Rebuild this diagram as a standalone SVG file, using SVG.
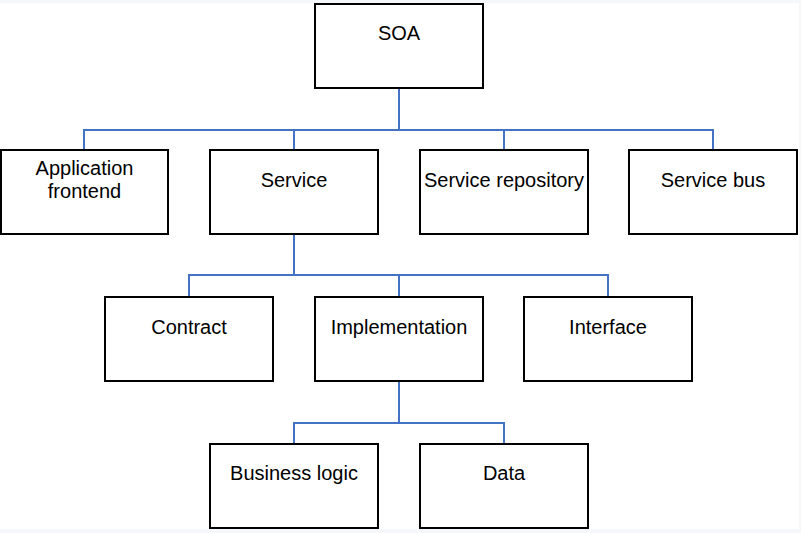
<svg xmlns="http://www.w3.org/2000/svg" width="801" height="533" viewBox="0 0 801 533">
<style>
.box{fill:#ffffff;stroke:#000000;stroke-width:2}
.lbl{font-family:"Liberation Sans",Arial,sans-serif;font-size:20px;fill:#000000;text-anchor:middle}
.con{fill:none;stroke:#4472c4;stroke-width:2}
</style>
<rect x="0" y="0" width="801" height="533" fill="#f5f8fb"/>
<rect x="0" y="3" width="799" height="526" fill="#ffffff"/>
<g id="connectors">
<path class="con" d="M399 88V130M84 150V130H713V150M294 130V150M504 130V150"/>
<path class="con" d="M294 234V275M189 297V275H608V297M399 275V297"/>
<path class="con" d="M399 381V423M294 444V423H504V444"/>
</g>
<g id="soa"><rect class="box" x="315" y="4" width="168" height="84"/><text class="lbl" x="399" y="40">SOA</text></g>
<g id="app-frontend"><rect class="box" x="1" y="150" width="167" height="84"/><text class="lbl" x="84.5" y="175">Application</text><text class="lbl" x="84.5" y="198">frontend</text></g>
<g id="service"><rect class="box" x="210" y="150" width="168" height="84"/><text class="lbl" x="294" y="187">Service</text></g>
<g id="service-repository"><rect class="box" x="420" y="150" width="168" height="84"/><text class="lbl" x="504" y="187">Service repository</text></g>
<g id="service-bus"><rect class="box" x="629" y="150" width="168" height="84"/><text class="lbl" x="713" y="187">Service bus</text></g>
<g id="contract"><rect class="box" x="105" y="297" width="168" height="84"/><text class="lbl" x="189" y="334">Contract</text></g>
<g id="implementation"><rect class="box" x="315" y="297" width="168" height="84"/><text class="lbl" x="399" y="334">Implementation</text></g>
<g id="interface"><rect class="box" x="524" y="297" width="168" height="84"/><text class="lbl" x="608" y="334">Interface</text></g>
<g id="business-logic"><rect class="box" x="210" y="444" width="168" height="84"/><text class="lbl" x="294" y="480">Business logic</text></g>
<g id="data"><rect class="box" x="420" y="444" width="168" height="84"/><text class="lbl" x="504" y="480">Data</text></g>
</svg>
